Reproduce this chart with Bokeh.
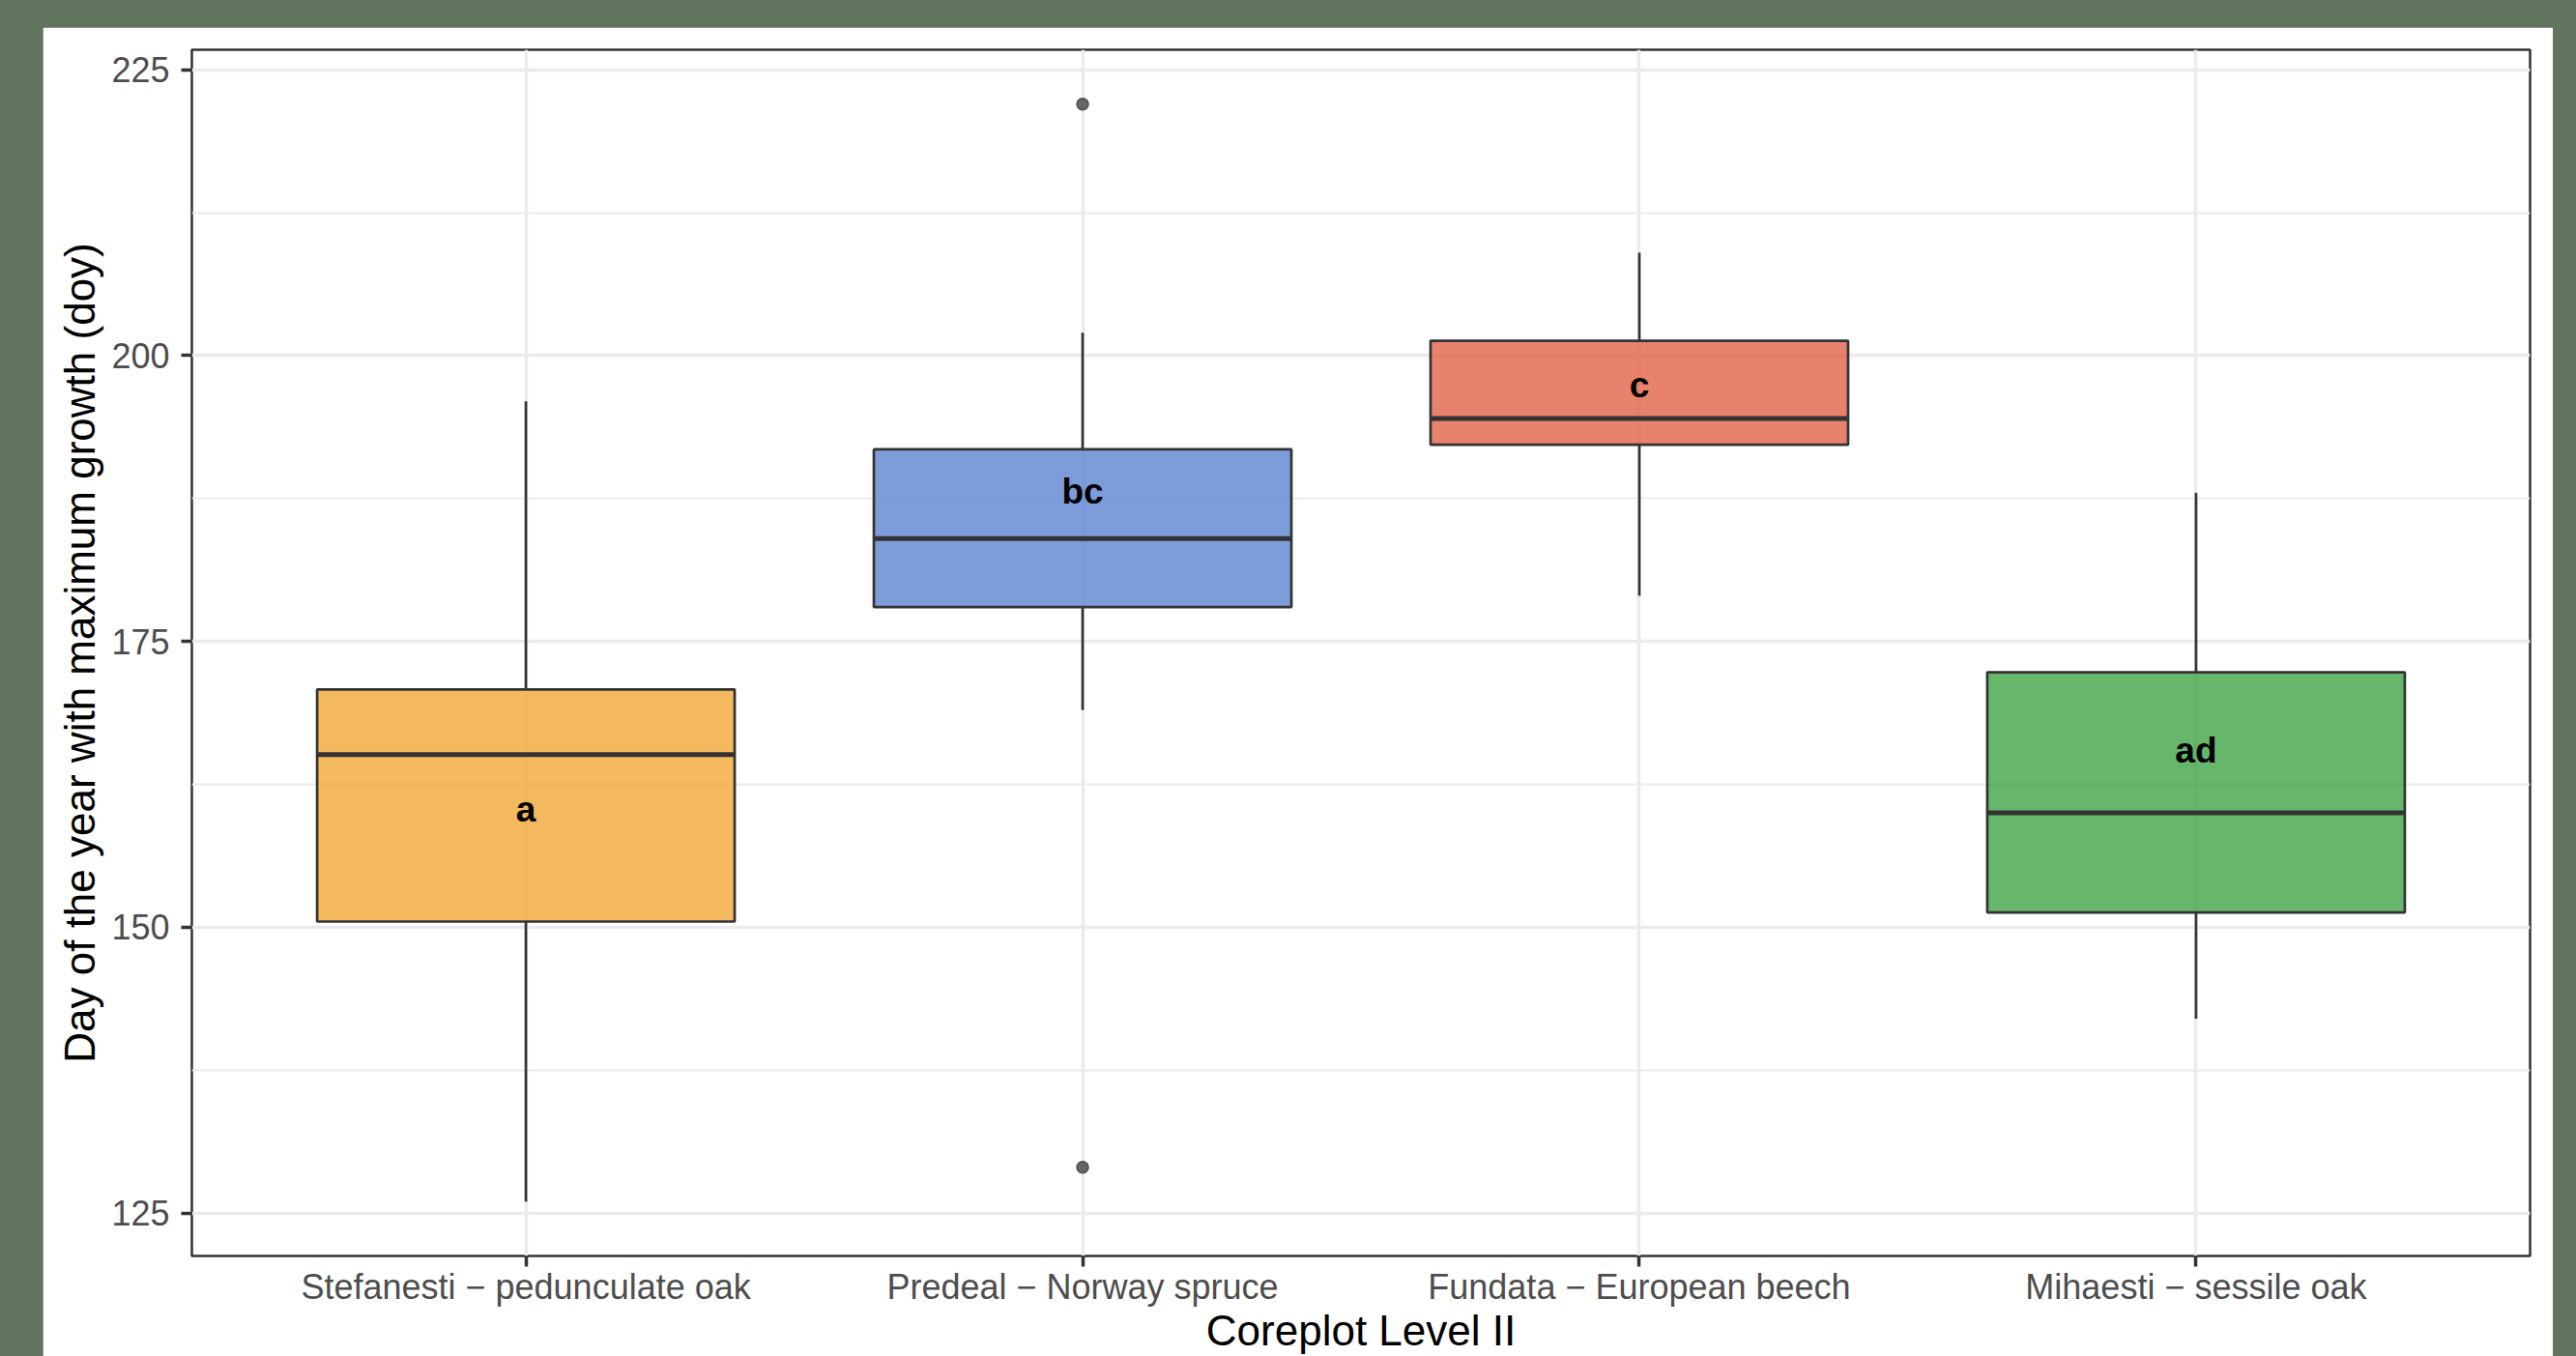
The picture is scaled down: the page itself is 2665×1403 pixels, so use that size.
from bokeh.plotting import figure
from bokeh.models import FixedTicker
from bokeh.embed import file_html
from bokeh.resources import INLINE
from bokeh.core.properties import value

# ---- data ----
sites = ["Stefanesti \u2212 pedunculate oak", "Predeal \u2212 Norway spruce",
         "Fundata \u2212 European beech", "Mihaesti \u2212 sessile oak"]
whisker_low = [126, 169, 179, 142]
q1 = [150.5, 178.0, 192.2, 151.3]
median = [165.1, 184.0, 194.5, 160.0]
q3 = [170.8, 191.8, 201.3, 172.3]
whisker_high = [196, 202, 209, 188]
outlier_site = [2, 2]
outlier_value = [222, 129]
letters = ["a", "bc", "c", "ad"]
letter_y = [160.3, 188.1, 197.4, 165.5]
fill_colors = ["#F1A836", "#5C83D1", "#E26347", "#40A447"]
y_ticks = [125, 150, 175, 200, 225]
y_minor = [137.5, 162.5, 187.5, 212.5]
x_title = "Coreplot Level II"
y_title = "Day of the year with maximum growth (doy)"

x = [i + 1 for i in range(len(sites))]
half_w = 0.375
FONT = "Liberation Sans"

FIG_W, FIG_H = 2597, 1375
B_LEFT, B_RIGHT, B_TOP, B_BOTTOM = 154, 24, 23, 104

p = figure(width=FIG_W, height=FIG_H, x_range=(0.4, 4.6), y_range=(121.25, 226.75),
           output_backend="svg", toolbar_location=None,
           min_border_left=B_LEFT, min_border_right=B_RIGHT,
           min_border_top=B_TOP, min_border_bottom=B_BOTTOM)
p.background_fill_color = "white"
p.border_fill_color = "white"
p.outline_line_color = "#333333"
p.outline_line_width = 2.5

# grids
p.xaxis.ticker = FixedTicker(ticks=x)
p.xgrid.ticker = FixedTicker(ticks=x)
p.yaxis.ticker = FixedTicker(ticks=y_ticks, minor_ticks=y_minor)
p.grid.grid_line_color = "#EBEBEB"
p.grid.grid_line_width = 3.5
p.ygrid.minor_grid_line_color = "#EBEBEB"
p.ygrid.minor_grid_line_width = 1.8

# whiskers
p.segment(x0=x, y0=q3, x1=x, y1=whisker_high, line_color="#333333", line_width=2.7)
p.segment(x0=x, y0=q1, x1=x, y1=whisker_low, line_color="#333333", line_width=2.7)

# boxes
left = [v - half_w for v in x]
right = [v + half_w for v in x]
p.quad(left=left, right=right, bottom=q1, top=q3, fill_color=fill_colors, fill_alpha=0.8,
       line_color="#333333", line_width=2.7)
p.segment(x0=left, y0=median, x1=right, y1=median, line_color="#333333", line_width=5)

# outliers
p.scatter(x=outlier_site, y=outlier_value, size=12, fill_color="#666666",
          line_color="#4D4D4D", line_width=1.5)

# letters
p.text(x=x, y=letter_y, text=letters, text_font=value(FONT), text_font_style="bold",
       text_font_size="37px", text_align="center", text_baseline="middle", text_color="black")

# axes
for ax in (p.xaxis[0], p.yaxis[0]):
    ax.axis_line_color = None
    ax.major_tick_line_color = "#333333"
    ax.major_tick_line_width = 3.5
    ax.major_tick_out = 11
    ax.major_tick_in = 0
    ax.minor_tick_out = 0
    ax.minor_tick_in = 0
    ax.major_label_text_font = FONT
    ax.major_label_text_font_size = "36px"
    ax.major_label_text_color = "#4D4D4D"
    ax.axis_label_text_font = FONT
    ax.axis_label_text_font_size = "44px"
    ax.axis_label_text_font_style = "normal"
    ax.axis_label_text_color = "black"

p.xaxis.major_label_overrides = {v: s for v, s in zip(x, sites)}
p.xaxis.axis_label = x_title
p.xaxis.major_label_standoff = 0
p.xaxis.axis_label_standoff = -3
p.yaxis.axis_label = y_title
p.yaxis.major_label_standoff = 12
p.yaxis.axis_label_standoff = 5

html = file_html(p, INLINE, title="Coreplot Level II")
html = html.replace(
    "</head>",
    "<style>html,body{margin:0;padding:0;background:#61745d;overflow:hidden;}"
    "body{padding:28px 0 0 44px;}</style></head>", 1)
open("out.html", "w").write(html)
